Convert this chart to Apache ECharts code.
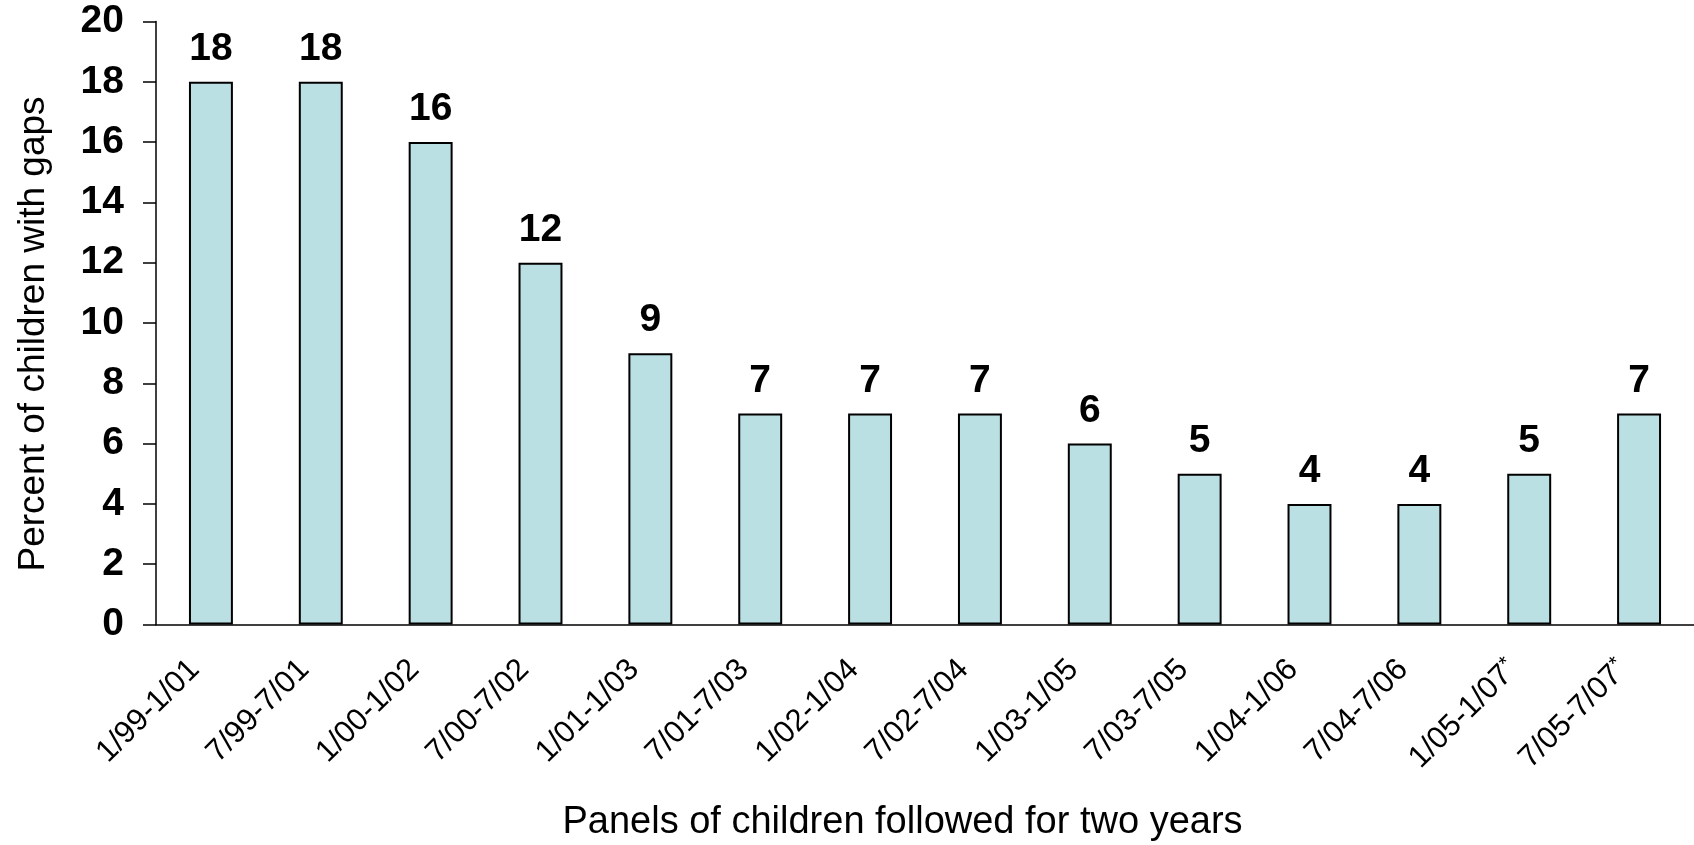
<!DOCTYPE html>
<html>
<head>
<meta charset="utf-8">
<script src="https://cdn.jsdelivr.net/npm/echarts@6/dist/echarts.min.js"></script>
<style>
html,body{margin:0;padding:0;background:#fff;}
#chart{width:1694px;height:845px;}
</style>
</head>
<body>
<div id="chart"></div>
<script>
const categories = ['1/99-1/01','7/99-7/01','1/00-1/02','7/00-7/02','1/01-1/03','7/01-7/03','1/02-1/04','7/02-7/04','1/03-1/05','7/03-7/05','1/04-1/06','7/04-7/06','1/05-1/07*','7/05-7/07*'];
const values = [18,18,16,12,9,7,7,7,6,5,4,4,5,7];
const yTicks = { min: 0, max: 20, interval: 2 };
const xTitle = 'Panels of children followed for two years';
const yTitle = 'Percent of children with gaps';

const FONT = '"Liberation Sans", Arial, sans-serif';
const chart = echarts.init(document.getElementById('chart'), null, {renderer: 'canvas'});
chart.setOption({
  animation: false,
  backgroundColor: '#ffffff',
  grid: { left: 156, right: 0, top: 21.5, bottom: 220.5, containLabel: false, outerBoundsMode: 'none' },
  xAxis: {
    type: 'category',
    data: categories,
    name: xTitle,
    nameLocation: 'middle',
    nameGap: 179,
    nameTextStyle: { fontFamily: FONT, fontSize: 38, color: '#000', padding: [0, 45, 0, 0] },
    axisLine: { show: true, lineStyle: { color: '#000', width: 1.5 } },
    axisTick: { show: false },
    axisLabel: {
      rotate: 45, interval: 0, margin: 24,
      fontFamily: FONT, fontSize: 31, color: '#000',
      padding: [0, 23, 0, 0],
      formatter: function (v) {
        if (v.endsWith('*')) return v.slice(0, -1) + '{sup|*}';
        return v;
      },
      rich: { sup: { fontFamily: FONT, fontSize: 21, color: '#000', verticalAlign: 'top', padding: [0, 0, 12, 0] } }
    },
    splitLine: { show: false }
  },
  yAxis: {
    type: 'value',
    min: yTicks.min, max: yTicks.max, interval: yTicks.interval,
    name: yTitle,
    nameLocation: 'middle',
    nameGap: 104,
    nameRotate: 90,
    nameTextStyle: { fontFamily: FONT, fontSize: 37, color: '#000', padding: [0, 22, 0, 0] },
    axisLine: { show: true, lineStyle: { color: '#000', width: 1.5 } },
    axisTick: { show: true, inside: false, length: 13, lineStyle: { color: '#000', width: 1.5 } },
    axisLabel: { margin: 32, fontFamily: FONT, fontSize: 39, fontWeight: 'bold', color: '#000' },
    splitLine: { show: false }
  },
  series: [{
    type: 'bar',
    data: values,
    barWidth: '40%',
    itemStyle: { color: '#BAE0E3', borderColor: '#000', borderWidth: 2 },
    label: {
      show: true, position: 'top', distance: 13,
      fontFamily: FONT, fontSize: 39, fontWeight: 'bold', color: '#000'
    }
  }]
});
</script>
</body>
</html>
